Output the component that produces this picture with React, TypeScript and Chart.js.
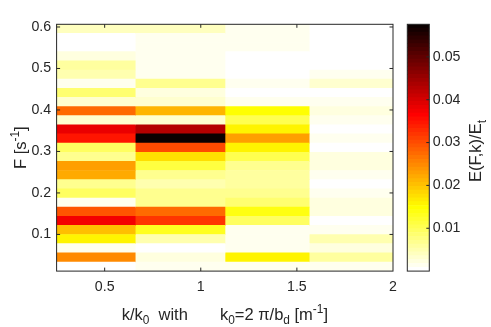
import React, { useEffect, useRef } from 'react';
import { Chart, registerables } from 'chart.js';

Chart.register(...registerables);

// Row centres of F [s^-1], from top row to bottom row
const F_CENTERS = [
  0.5956, 0.5736, 0.5516, 0.5295, 0.5075, 0.4854, 0.4634, 0.4414, 0.4193,
  0.3973, 0.3752, 0.3532, 0.3312, 0.3091, 0.2871, 0.2650, 0.2430, 0.2210,
  0.1989, 0.1769, 0.1548, 0.1328, 0.1108, 0.0887, 0.0667, 0.0446, 0.0226,
];
// Column edges in k/k0
const K_EDGES = [0.25, 0.659, 1.126, 1.564, 2.0];

// E(F,k)/E_t per column (top row -> bottom row)
const COL_1 = [
  0.0037, 0.0002, 0.0002, 0.0023, 0.0054, 0.0048, 0.0011, 0.0088, 0.0034,
  0.0271, 0.0031, 0.0385, 0.0343, 0.0093, 0.0071, 0.0233, 0.0216, 0.0065,
  0.0093, 0.0017, 0.0296, 0.0377, 0.0203, 0.0157, 0.0014, 0.0250, 0.0002,
];
const COL_2 = [
  0.0037, 0.0011, 0.0011, 0.0011, 0.0011, 0.0011, 0.0065, 0.0025, 0.0031,
  0.0208, 0.0031, 0.0424, 0.0567, 0.0301, 0.0174, 0.0110, 0.0065, 0.0048,
  0.0071, 0.0071, 0.0271, 0.0318, 0.0133, 0.0048, 0.0002, 0.0023, 0.0013,
];
const COL_3 = [
  0.0011, 0.0011, 0.0011, 0.0002, 0.0002, 0.0008, 0.0013, 0.0002, 0.0017,
  0.0150, 0.0099, 0.0157, 0.0225, 0.0161, 0.0099, 0.0071, 0.0059, 0.0054,
  0.0065, 0.0088, 0.0135, 0.0093, 0.0011, 0.0011, 0.0017, 0.0157, 0.0011,
];
const COL_4 = [
  0.0002, 0.0002, 0.0002, 0.0002, 0.0008, 0.0014, 0.0031, 0.0008, 0.0017,
  0.0023, 0.0011, 0.0002, 0.0011, 0.0002, 0.0020, 0.0020, 0.0011, 0.0003,
  0.0017, 0.0023, 0.0020, 0.0002, 0.0017, 0.0048, 0.0025, 0.0054, 0.0011,
];

const X_TICKS = [0.5, 1, 1.5, 2];
const Y_TICKS = [0.1, 0.2, 0.3, 0.4, 0.5, 0.6];
const CB_TICKS = [0.01, 0.02, 0.03, 0.04, 0.05];

const K_MIN = 0.25;
const K_MAX = 2.0;
const F_MIN = 0.0116;
const F_MAX = 0.6065;
const C_MAX = 0.0576;
const N_LEVELS = 64;

const FAMILY = '"Liberation Sans", Arial, Helvetica, sans-serif';
const TEXT = '#262626';
const AXIS = '#262626';
const TICK_SIZE = 14.2;
const TITLE_SIZE = 16.5;

// flipped MATLAB "hot" colormap
function levelColor(idx: number): string {
  const i = N_LEVELS - idx; // 1-based index into hot
  const r = Math.min(1, i / 24);
  const g = Math.max(0, Math.min(1, (i - 24) / 24));
  const b = Math.max(0, Math.min(1, (i - 48) / 16));
  return `rgb(${Math.round(r * 255)},${Math.round(g * 255)},${Math.round(b * 255)})`;
}
function colorFor(v: number): string {
  let idx = Math.floor((v / C_MAX) * N_LEVELS);
  if (idx < 0) idx = 0;
  if (idx > N_LEVELS - 1) idx = N_LEVELS - 1;
  return levelColor(idx);
}

type Seg = { t: string; s?: 'sub' | 'sup' };
function drawRich(
  ctx: CanvasRenderingContext2D,
  segs: Seg[],
  cx: number,
  baseY: number,
  rotate: boolean,
  size: number
) {
  ctx.save();
  ctx.translate(cx, baseY);
  if (rotate) ctx.rotate(-Math.PI / 2);
  const main = `${size}px ${FAMILY}`;
  const small = `${size * 0.72}px ${FAMILY}`;
  let total = 0;
  const widths = segs.map((sg) => {
    ctx.font = sg.s ? small : main;
    const w = ctx.measureText(sg.t).width;
    total += w;
    return w;
  });
  let x = -total / 2;
  ctx.fillStyle = TEXT;
  ctx.textBaseline = 'alphabetic';
  ctx.textAlign = 'left';
  segs.forEach((sg, i) => {
    ctx.font = sg.s ? small : main;
    const dy = sg.s === 'sub' ? size * 0.3 : sg.s === 'sup' ? -size * 0.42 : 0;
    ctx.fillText(sg.t, x, dy);
    x += widths[i];
  });
  ctx.restore();
}

const X_TITLE: Seg[] = [
  { t: 'k/k' }, { t: '0', s: 'sub' }, { t: '  with       k' }, { t: '0', s: 'sub' },
  { t: '=2 \u03c0/b' }, { t: 'd', s: 'sub' }, { t: ' [m' }, { t: '-1', s: 'sup' }, { t: ']' },
];
const Y_TITLE: Seg[] = [{ t: 'F [s' }, { t: '-1', s: 'sup' }, { t: ']' }];
const CB_TITLE: Seg[] = [{ t: 'E(F,k)/E' }, { t: 't', s: 'sub' }];

const mainPlugin = {
  id: 'matlabFrame',
  afterDraw(chart: any) {
    const { ctx, chartArea: a, scales } = chart;
    ctx.save();
    ctx.strokeStyle = AXIS;
    ctx.lineWidth = 1;
    ctx.strokeRect(a.left, a.top, a.right - a.left, a.bottom - a.top);
    const tl = 3.5;
    ctx.beginPath();
    X_TICKS.forEach((v) => {
      const px = scales.x.getPixelForValue(v);
      if (px > a.left + 1 && px < a.right - 1) {
        ctx.moveTo(px, a.bottom); ctx.lineTo(px, a.bottom - tl);
        ctx.moveTo(px, a.top); ctx.lineTo(px, a.top + tl);
      }
    });
    Y_TICKS.forEach((v) => {
      const py = scales.y.getPixelForValue(v);
      ctx.moveTo(a.left, py); ctx.lineTo(a.left + tl, py);
      ctx.moveTo(a.right, py); ctx.lineTo(a.right - tl, py);
    });
    ctx.stroke();
    ctx.restore();
    drawRich(ctx, X_TITLE, (a.left + a.right) / 2, 319.5, false, TITLE_SIZE);
    drawRich(ctx, Y_TITLE, 25.5, (a.top + a.bottom) / 2, true, TITLE_SIZE);
  },
};

const cbPlugin = {
  id: 'cbFrame',
  afterDraw(chart: any) {
    const { ctx, chartArea: a, scales } = chart;
    ctx.save();
    ctx.strokeStyle = AXIS;
    ctx.lineWidth = 1;
    ctx.strokeRect(a.left, a.top, a.right - a.left, a.bottom - a.top);
    ctx.beginPath();
    CB_TICKS.forEach((v) => {
      const py = scales.y.getPixelForValue(v);
      ctx.moveTo(a.right, py); ctx.lineTo(a.right - 3, py);
    });
    ctx.stroke();
    ctx.restore();
    drawRich(ctx, CB_TITLE, 481, 151, true, TITLE_SIZE);
  },
};

export default function App() {
  const mainRef = useRef<HTMLCanvasElement | null>(null);
  const cbRef = useRef<HTMLCanvasElement | null>(null);

  useEffect(() => {
    document.body.style.margin = '0';
    const cols = [COL_1, COL_2, COL_3, COL_4];
    const datasets = cols.map((vals, c) => ({
      label: `col${c + 1}`,
      data: vals.map((v, i) => ({ y: F_CENTERS[i], x: [K_EDGES[c], K_EDGES[c + 1]] })),
      backgroundColor: vals.map(colorFor),
      borderWidth: 0,
      barPercentage: 1,
      categoryPercentage: 1,
      grouped: false,
    }));

    const tickFont = { family: FAMILY, size: TICK_SIZE };
    const noGrid = { display: false, drawTicks: false, tickLength: 0 };

    const main = new Chart(mainRef.current!, {
      type: 'bar',
      data: { datasets: datasets as any },
      plugins: [mainPlugin],
      options: {
        animation: false,
        responsive: false,
        devicePixelRatio: 1,
        indexAxis: 'y',
        events: [],
        layout: { padding: { left: 0, top: 24.3, right: 98, bottom: 0 } },
        plugins: { legend: { display: false }, tooltip: { enabled: false } },
        scales: {
          x: {
            type: 'linear',
            min: K_MIN,
            max: K_MAX,
            grid: noGrid,
            border: { display: false },
            ticks: {
              autoSkip: false,
              padding: 7,
              color: TEXT,
              font: tickFont,
              maxRotation: 0,
              callback: (v: any) => String(v),
            },
            afterBuildTicks: (s: any) => { s.ticks = X_TICKS.map((v) => ({ value: v })); },
            afterFit: (s: any) => { s.height = 55.9; },
          },
          y: {
            type: 'linear',
            min: F_MIN,
            max: F_MAX,
            offset: false,
            grid: noGrid,
            border: { display: false },
            ticks: {
              autoSkip: false,
              padding: 5.5,
              color: TEXT,
              font: tickFont,
              callback: (v: any) => String(v),
            },
            afterBuildTicks: (s: any) => { s.ticks = Y_TICKS.map((v) => ({ value: v })); },
            afterFit: (s: any) => { s.width = 56.6; },
          },
        },
      } as any,
    });

    const levels = Array.from({ length: N_LEVELS }, (_, i) => i);
    const cb = new Chart(cbRef.current!, {
      type: 'bar',
      data: {
        labels: ['cb'],
        datasets: levels.map((i) => ({
          data: [C_MAX / N_LEVELS],
          backgroundColor: levelColor(i),
          borderWidth: 0,
          barPercentage: 1,
          categoryPercentage: 1,
          stack: 's',
        })),
      },
      plugins: [cbPlugin],
      options: {
        animation: false,
        responsive: false,
        devicePixelRatio: 1,
        events: [],
        layout: { padding: { left: 407.3, top: 24.3, right: 0, bottom: 327 - 271.1 } },
        plugins: { legend: { display: false }, tooltip: { enabled: false } },
        scales: {
          x: { stacked: true, display: false },
          y: {
            type: 'linear',
            stacked: true,
            position: 'right',
            min: 0,
            max: C_MAX,
            grid: noGrid,
            border: { display: false },
            ticks: {
              autoSkip: false,
              padding: 3.5,
              color: TEXT,
              font: tickFont,
              callback: (v: any) => String(v),
            },
            afterBuildTicks: (s: any) => { s.ticks = CB_TICKS.map((v) => ({ value: v })); },
            afterFit: (s: any) => { s.width = 491 - 429.3; },
          },
        },
      } as any,
    });

    return () => {
      main.destroy();
      cb.destroy();
    };
  }, []);

  return (
    <div style={{ position: 'relative', width: 491, height: 327, background: '#fff' }}>
      <canvas ref={mainRef} width={491} height={327} style={{ position: 'absolute', left: 0, top: 0 }} />
      <canvas ref={cbRef} width={491} height={327} style={{ position: 'absolute', left: 0, top: 0 }} />
    </div>
  );
}
